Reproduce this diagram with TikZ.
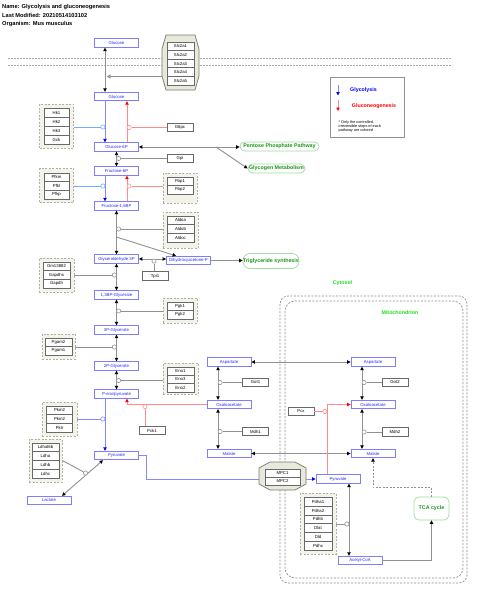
\documentclass[tikz,border=0pt]{standalone}
\usepackage{fontspec}
\setmainfont{Liberation Sans}
\usetikzlibrary{arrows.meta}

\definecolor{metline}{RGB}{125,125,255}
\definecolor{mettext}{RGB}{40,40,255}
\definecolor{geneline}{RGB}{105,105,105}
\definecolor{grpfill}{RGB}{243,243,234}
\definecolor{grpline}{RGB}{175,175,165}
\definecolor{cplxfill}{RGB}{232,232,220}
\definecolor{cplxline}{RGB}{120,120,110}
\definecolor{lnkgray}{RGB}{145,145,145}
\definecolor{glyline}{RGB}{135,135,255}
\definecolor{hkline}{RGB}{110,175,255}
\definecolor{gngline}{RGB}{255,140,140}
\definecolor{pwline}{RGB}{160,220,160}
\definecolor{pwtext}{RGB}{25,150,25}
\definecolor{cmptext}{RGB}{30,220,30}
\definecolor{cmpline}{RGB}{140,140,140}
\definecolor{membline}{RGB}{170,170,170}

\newcommand{\nodefont}{\fontsize{4.3}{5}\selectfont}
\newcommand{\pwfont}{\fontsize{5.3}{6}\selectfont\bfseries}
\newcommand{\hdfont}{\fontsize{5.7}{6.5}\selectfont\bfseries}
\newcommand{\notefont}{\fontsize{3.8}{4.2}\selectfont}

\tikzset{
  bk/.tip={Triangle[length=3.5pt, width=3.4pt, color=black]},
  bl/.tip={Triangle[length=3.5pt, width=3.4pt, color=blue]},
  rd/.tip={Triangle[length=3.5pt, width=3.4pt, color=red]},
}

\begin{document}
\begin{tikzpicture}[x=1pt, y=-1pt,
    met/.style={draw=metline, line width=0.8pt, fill=white, text=mettext, minimum width=44pt, minimum height=8.5pt, inner sep=0pt, font=\nodefont},
    gene/.style={draw=geneline, line width=0.7pt, fill=white, minimum width=26pt, minimum height=8.5pt, inner sep=0pt, font=\nodefont},
    grp/.style={draw=grpline, dash pattern=on 2pt off 1.5pt, line width=0.7pt, fill=grpfill, inner sep=0pt},
    cplx/.style={draw=cplxline, line width=0.7pt, fill=cplxfill},
    pway/.style={draw=pwline, line width=0.7pt, rounded corners=4.5pt, fill=white, text=pwtext, font=\pwfont, inner sep=0pt},
    hdr/.style={anchor=west, inner sep=0pt, font=\hdfont},
    comp/.style={draw=cmpline, dash pattern=on 2pt off 1.5pt, line width=0.7pt},
    memb/.style={draw=membline, dash pattern=on 2pt off 1pt, line width=1pt},
    lnk/.style={draw=lnkgray, line width=0.9pt},
    gly/.style={draw=glyline, line width=0.9pt},
    gng/.style={draw=gngline, line width=0.9pt},
    cat/.style={circle, draw=lnkgray, fill=white, line width=0.6pt, minimum size=4.2pt, inner sep=0pt},
  ]
    \useasboundingbox (0,0) rectangle (480,597);

    % Header
    \node[hdr] (hname) at (2, 7.5) {Name: Glycolysis and gluconeogenesis};
    \node[hdr] (hmod) at (2, 15.7) {Last Modified: 20210514103102};
    \node[hdr] (horg) at (2, 24) {Organism: Mus musculus};

    % Draw membrane and compartments
    \draw[memb] (8, 58) -- (452, 58);
    \draw[memb] (8, 65) -- (452, 65);
    \draw[comp, rounded corners=8pt] (280, 296) rectangle (467, 583);
    \draw[comp, rounded corners=10pt] (285, 301) rectangle (463, 578);
    \node[font=\pwfont, text=cmptext] (cytlbl) at (342.5, 283) {Cytosol};
    \node[font=\pwfont, text=cmptext] (mitlbl) at (400, 313) {Mitochondrion};

    % Legend
    \node[draw=lnkgray, line width=0.7pt, minimum width=74pt, minimum height=60pt, inner sep=0pt] (legbox) at (367, 107) {};
    \node[font=\pwfont, text=blue] (lgly) at (363.5, 90) {Glycolysis};
    \node[font=\pwfont, text=red] (lgng) at (374, 106) {Gluconeogenesis};
    \node[anchor=north west, align=left, inner sep=0pt, font=\notefont] (lnote) at (338.5, 120.5) {* Only the controlled,\\irreversible steps of each\\pathway are colored};
    \coordinate (lgb1) at (338, 85);
    \coordinate (lgb2) at (338, 95.5);
    \coordinate (lgr1) at (338, 100);
    \coordinate (lgr2) at (338, 111);
    \draw[gly, -bl] (lgb1) -- (lgb2);
    \draw[gng, -rd] (lgr1) -- (lgr2);

    % Draw groups
    \node[grp, minimum width=34pt, minimum height=44pt] (hkgrp) at (56.5, 126) {};
    \node[grp, minimum width=34pt, minimum height=34pt] (pfkgrp) at (56.5, 185.5) {};
    \node[grp, minimum width=34pt, minimum height=30pt] (fbpgrp) at (180, 188) {};
    \node[grp, minimum width=35pt, minimum height=36pt] (aldgrp) at (180.5, 230) {};
    \node[grp, minimum width=35pt, minimum height=34pt] (gapgrp) at (56.5, 275) {};
    \node[grp, minimum width=34pt, minimum height=25pt] (pgkgrp) at (180, 310.5) {};
    \node[grp, minimum width=33pt, minimum height=25pt] (pgamgrp) at (58.5, 346.5) {};
    \node[grp, minimum width=35pt, minimum height=31pt] (enogrp) at (180.5, 378.5) {};
    \node[grp, minimum width=35pt, minimum height=34pt] (pkgrp) at (59.5, 419) {};
    \node[grp, minimum width=33pt, minimum height=43pt] (ldhgrp) at (45.5, 460.5) {};
    \node[grp, minimum width=36pt, minimum height=61pt] (pdhgrp) at (318, 523.5) {};

    % Draw complexes
    \filldraw[cplx] (166, 35) -- (195, 35) -- (199, 49) -- (199, 76) -- (195, 90) -- (166, 90) -- (162, 76) -- (162, 49) -- cycle;
    \coordinate (slcw) at (162, 76.5);
    \node[gene, minimum width=27pt, minimum height=8.6pt] (slc2a1) at (180.5, 46.3) {Slc2a1};
    \node[gene, minimum width=27pt, minimum height=8.6pt] (slc2a2) at (180.5, 54.9) {Slc2a2};
    \node[gene, minimum width=27pt, minimum height=8.6pt] (slc2a3) at (180.5, 63.5) {Slc2a3};
    \node[gene, minimum width=27pt, minimum height=8.6pt] (slc2a4) at (180.5, 72.1) {Slc2a4};
    \node[gene, minimum width=27pt, minimum height=8.6pt] (slc2a5) at (180.5, 80.7) {Slc2a5};

    % Draw genes
    \node[gene, minimum width=25pt, minimum height=9pt] (hk1) at (56.5, 112.5) {Hk1};
    \node[gene, minimum width=25pt, minimum height=9pt] (hk2) at (56.5, 121.5) {Hk2};
    \node[gene, minimum width=25pt, minimum height=9pt] (hk3) at (56.5, 130.5) {Hk3};
    \node[gene, minimum width=25pt, minimum height=9pt] (gck) at (56.5, 139.5) {Gck};
    \node[gene, minimum width=25pt, minimum height=8.7pt] (pfkm) at (56.5, 177.3) {Pfkm};
    \node[gene, minimum width=25pt, minimum height=8.7pt] (pfkl) at (56.5, 186) {Pfkl};
    \node[gene, minimum width=25pt, minimum height=8.7pt] (pfkp) at (56.5, 194.7) {Pfkp};
    \node[gene] (fbp1) at (180, 181.3) {Fbp1};
    \node[gene] (fbp2) at (180, 189.8) {Fbp2};
    \node[gene, minimum width=27pt, minimum height=8.7pt] (aldoa) at (180.5, 220.3) {Aldoa};
    \node[gene, minimum width=27pt, minimum height=8.7pt] (aldob) at (180.5, 229) {Aldob};
    \node[gene, minimum width=27pt, minimum height=8.7pt] (aldoc) at (180.5, 237.7) {Aldoc};
    \node[gene, minimum height=8pt] (g6pc) at (180, 127.5) {G6pc};
    \node[gene] (gpi) at (180, 158.5) {Gpi};
    \node[gene] (tpi) at (155, 276) {Tpi1};
    \node[gene, minimum width=27pt, minimum height=8.7pt] (gm13882) at (56.5, 266.3) {Gm13882};
    \node[gene, minimum width=27pt, minimum height=8.7pt] (gapdhs) at (56.5, 275) {Gapdhs};
    \node[gene, minimum width=27pt, minimum height=8.7pt] (gapdh) at (56.5, 283.7) {Gapdh};
    \node[gene] (pgk1) at (180, 306.3) {Pgk1};
    \node[gene] (pgk2) at (180, 314.8) {Pgk2};
    \node[gene, minimum width=27pt] (pgam2) at (58.5, 342.3) {Pgam2};
    \node[gene, minimum width=27pt] (pgam1) at (58.5, 350.8) {Pgam1};
    \node[gene, minimum width=27pt, minimum height=8.3pt] (eno1) at (180.5, 371.2) {Eno1};
    \node[gene, minimum width=27pt, minimum height=8.3pt] (eno3) at (180.5, 379.5) {Eno3};
    \node[gene, minimum width=27pt, minimum height=8.3pt] (eno2) at (180.5, 387.8) {Eno2};
    \node[gene, minimum height=8.7pt] (pkm2a) at (59.5, 410.3) {Pkm2};
    \node[gene, minimum height=8.7pt] (pkm2b) at (59.5, 419) {Pkm2};
    \node[gene, minimum height=8.7pt] (pklr) at (59.5, 427.7) {Pklr};
    \node[gene, minimum height=8pt] (pck1) at (152, 430.5) {Pck1};
    \node[gene, minimum width=27pt, minimum height=8.75pt] (ldhal6b) at (45.5, 447.4) {Ldhal6b};
    \node[gene, minimum width=27pt, minimum height=8.75pt] (ldha) at (45.5, 456.1) {Ldha};
    \node[gene, minimum width=27pt, minimum height=8.75pt] (ldhb) at (45.5, 464.9) {Ldhb};
    \node[gene, minimum width=27pt, minimum height=8.75pt] (ldhc) at (45.5, 473.6) {Ldhc};
    \node[gene] (got1) at (255.5, 382.5) {Got1};
    \node[gene] (mdh1) at (255.5, 431.5) {Mdh1};
    \node[gene] (got2) at (395, 382.5) {Got2};
    \node[gene] (mdh2) at (395, 432) {Mdh2};
    \node[gene] (pcx) at (301, 411.5) {Pcx};
    \node[gene, minimum width=28pt, minimum height=8.75pt] (pdha1) at (318, 501.9) {Pdha1};
    \node[gene, minimum width=28pt, minimum height=8.75pt] (pdha2) at (318, 510.6) {Pdha2};
    \node[gene, minimum width=28pt, minimum height=8.75pt] (pdhb) at (318, 519.4) {Pdhb};
    \node[gene, minimum width=28pt, minimum height=8.75pt] (dlat) at (318, 528.1) {Dlat};
    \node[gene, minimum width=28pt, minimum height=8.75pt] (dld) at (318, 536.9) {Dld};
    \node[gene, minimum width=28pt, minimum height=8.75pt] (pdhx) at (318, 545.6) {Pdhx};

    % Draw metabolites
    \node[met] (glu1) at (116.5, 43) {Glucose};
    \node[met] (glu2) at (116.5, 96.5) {Glucose};
    \node[met] (g6p) at (116.5, 147) {Glucose-6P};
    \node[met] (f6p) at (116.5, 171) {Fructose-6P};
    \node[met] (f16bp) at (116.5, 206) {Fructose-1,6BP};
    \node[met] (g3p) at (116.5, 259) {Glyceraldehyde 3P};
    \node[met] (dhap) at (188.5, 260.5) {Dihydroxyacetone-P};
    \node[met] (bpg) at (116.5, 295) {1,3BP-Glycerate};
    \node[met] (pg3) at (116.5, 330) {3P-Glycerate};
    \node[met] (pg2) at (116.5, 366) {2P-Glycerate};
    \node[met] (pep) at (116.5, 394) {P-enolpyruvate};
    \node[met] (pyr) at (116.5, 455.5) {Pyruvate};
    \node[met] (lac) at (49, 500.5) {Lactate};
    \node[met] (aspc) at (229, 362) {Aspartate};
    \node[met] (oaac) at (229, 404.5) {Oxaloacetate};
    \node[met] (malc) at (229, 453.5) {Malate};
    \node[met] (aspm) at (373, 362) {Aspartate};
    \node[met] (oaam) at (373, 404.5) {Oxaloacetate};
    \node[met] (malm) at (373, 453.5) {Malate};
    \node[met] (pyrm) at (338, 479) {Pyruvate};
    \node[met] (acoa) at (360, 560.5) {Acetyl-CoA};

    % Draw pathways
    \node[pway, minimum width=79pt, minimum height=9pt] (ppp) at (279.5, 146.5) {Pentose Phosphate Pathway};
    \node[pway, minimum width=57pt, minimum height=9pt] (glyc) at (276.5, 168.5) {Glycogen Metabolism};
    \node[pway, rounded corners=7pt, minimum width=56pt, minimum height=15pt] (tgs) at (271, 261) {Triglyceride synthesis};
    \node[pway, rounded corners=5pt, minimum width=35pt, minimum height=23pt] (tca) at (431.5, 508.5) {TCA cycle};

    % Draw reactions
    \draw[lnk, bk-bk] ([xshift=-11.5pt]glu1.south) -- ([xshift=-11.5pt]glu2.north);
    \draw[gly, -bl] ([xshift=-11.5pt]glu2.south) -- ([xshift=-11.5pt]g6p.north);
    \draw[gng, -rd] ([xshift=10.5pt]g6p.north) -- ([xshift=10.5pt]glu2.south);
    \draw[lnk, bk-bk] (g6p) -- (f6p);
    \draw[gly, -bl] ([xshift=-11.5pt]f6p.south) -- ([xshift=-11.5pt]f16bp.north);
    \draw[gng, -rd] ([xshift=10.5pt]f16bp.north) -- ([xshift=10.5pt]f6p.south);
    \draw[lnk, bk-bk] (f16bp) -- (g3p);
    \coordinate (aldbr) at (116.5, 237);
    \draw[lnk, -bk] (aldbr) -- ([xshift=10pt]dhap.north west);
    \draw[lnk, bk-bk] (g3p.east) -- (g3p.east -| dhap.west);
    \draw[lnk, -bk] (dhap.east) -- (dhap.east -| tgs.west);
    \draw[lnk, bk-bk] (g6p.east) -- (g6p.east -| ppp.west);
    \coordinate (pppbr) at (216, 147);
    \draw[lnk, -bk] (pppbr) -- (glyc.west);
    \draw[lnk, bk-bk] (g3p) -- (bpg);
    \draw[lnk, bk-bk] (bpg) -- (pg3);
    \draw[lnk, bk-bk] (pg3) -- (pg2);
    \draw[lnk, bk-bk] (pg2) -- (pep);
    \draw[gly, -bl] ([xshift=-11.5pt]pep.south) -- ([xshift=-11.5pt]pyr.north);
    \draw[gng, -rd] (oaac.west) -| ([xshift=10.5pt]pep.south);
    \draw[lnk, bk-bk] ([xshift=-13.5pt]pyr.south) -- ([xshift=13pt]lac.north);
    \draw[gly, -bl] (pyr.east) -- ++(8, 0) |- (pyrm.west);
    \draw[lnk, bk-bk] ([xshift=-11pt]aspc.south) -- ([xshift=-11pt]oaac.north);
    \draw[lnk, bk-bk] ([xshift=-11pt]oaac.south) -- ([xshift=-11pt]malc.north);
    \draw[lnk, bk-bk] ([xshift=-11pt]aspm.south) -- ([xshift=-11pt]oaam.north);
    \draw[lnk, bk-bk] ([xshift=-11pt]oaam.south) -- ([xshift=-11pt]malm.north);
    \draw[lnk, bk-bk] (aspc.east) -- (aspm.west);
    \draw[lnk, bk-bk] (malc.east) -- (malm.west);
    \draw[gng, -rd] ([xshift=-11pt]pyrm.north) |- (oaam.west);
    \draw[lnk, bk-bk] ([xshift=11pt]pyrm.south) -- ([xshift=-11pt]acoa.north);
    \draw[lnk, -bk] (acoa.east) -| (tca.south);
    \draw[lnk, dash pattern=on 2pt off 1.5pt, -bk] (tca.north) -- ++(0, -9) -| (malm.south);

    % MPC complex over the transport line
    \filldraw[cplx] (270, 462) -- (295, 462) -- (306, 468) -- (306, 484) -- (295, 490) -- (270, 490) -- (259, 484) -- (259, 468) -- cycle;
    \node[gene, minimum width=35pt, minimum height=8pt] (mpc1) at (282.5, 473) {MPC1};
    \node[gene, minimum width=35pt, minimum height=8pt] (mpc2) at (282.5, 481) {MPC2};

    % Draw catalysis
    \node[cat, draw=hkline] (cHk) at (102.9, 127) {};
    \node[cat, draw=gngline] (cG6pc) at (129.1, 127.5) {};
    \node[cat] (cGpi) at (118.6, 158.5) {};
    \node[cat, draw=hkline] (cPfk) at (102.9, 186) {};
    \node[cat, draw=gngline] (cFbp) at (129.1, 186) {};
    \node[cat] (cAld) at (118.6, 229) {};
    \node[cat] (cTpi) at (154, 261.1) {};
    \node[cat] (cGap) at (114.4, 275) {};
    \node[cat] (cPgk) at (118.6, 311) {};
    \node[cat] (cPgam) at (114.4, 347) {};
    \node[cat] (cEno) at (118.6, 380.5) {};
    \node[cat, draw=glyline] (cPk) at (102.9, 419) {};
    \node[cat, draw=gngline] (cPck) at (145, 406.6) {};
    \node[cat] (cLdh) at (85.5, 473) {};
    \node[cat] (cGot1) at (220.1, 382.5) {};
    \node[cat] (cMdh1) at (220.1, 431.5) {};
    \node[cat] (cGot2) at (364.1, 382.5) {};
    \node[cat] (cMdh2) at (364.1, 432) {};
    \node[cat, draw=gngline] (cPcx) at (324.9, 411.5) {};
    \node[cat] (cPdh) at (346.9, 524) {};

    \draw[lnk, -{Triangle[open, length=4pt, width=4pt, color=lnkgray, fill=white]}] (slcw) -- ++(-55.5, 0);
    \draw[draw=hkline, line width=0.9pt] (hkgrp.east |- cHk) -- (cHk);
    \draw[gng] (g6pc.west) -- (cG6pc);
    \draw[lnk] (gpi.west) -- (cGpi);
    \draw[draw=hkline, line width=0.9pt] (pfkgrp.east |- cPfk) -- (cPfk);
    \draw[gng] (fbpgrp.west |- cFbp) -- (cFbp);
    \draw[lnk] (aldgrp.west |- cAld) -- (cAld);
    \draw[lnk] (tpi.north -| cTpi) -- (cTpi);
    \draw[lnk] (gapgrp.east |- cGap) -- (cGap);
    \draw[lnk] (pgkgrp.west |- cPgk) -- (cPgk);
    \draw[lnk] (pgamgrp.east |- cPgam) -- (cPgam);
    \draw[lnk] (enogrp.west |- cEno) -- (cEno);
    \draw[gly] (pkgrp.east |- cPk) -- (cPk);
    \draw[gng] (pck1.north -| cPck) -- (cPck);
    \draw[lnk] (ldhgrp.east) -- (cLdh);
    \draw[lnk] (got1.west) -- (cGot1);
    \draw[lnk] (mdh1.west) -- (cMdh1);
    \draw[lnk] (got2.west) -- (cGot2);
    \draw[lnk] (mdh2.west) -- (cMdh2);
    \draw[gng] (pcx.east) -- (cPcx);
    \draw[lnk] (pdhgrp.east |- cPdh) -- (cPdh);
\end{tikzpicture}
\end{document}
